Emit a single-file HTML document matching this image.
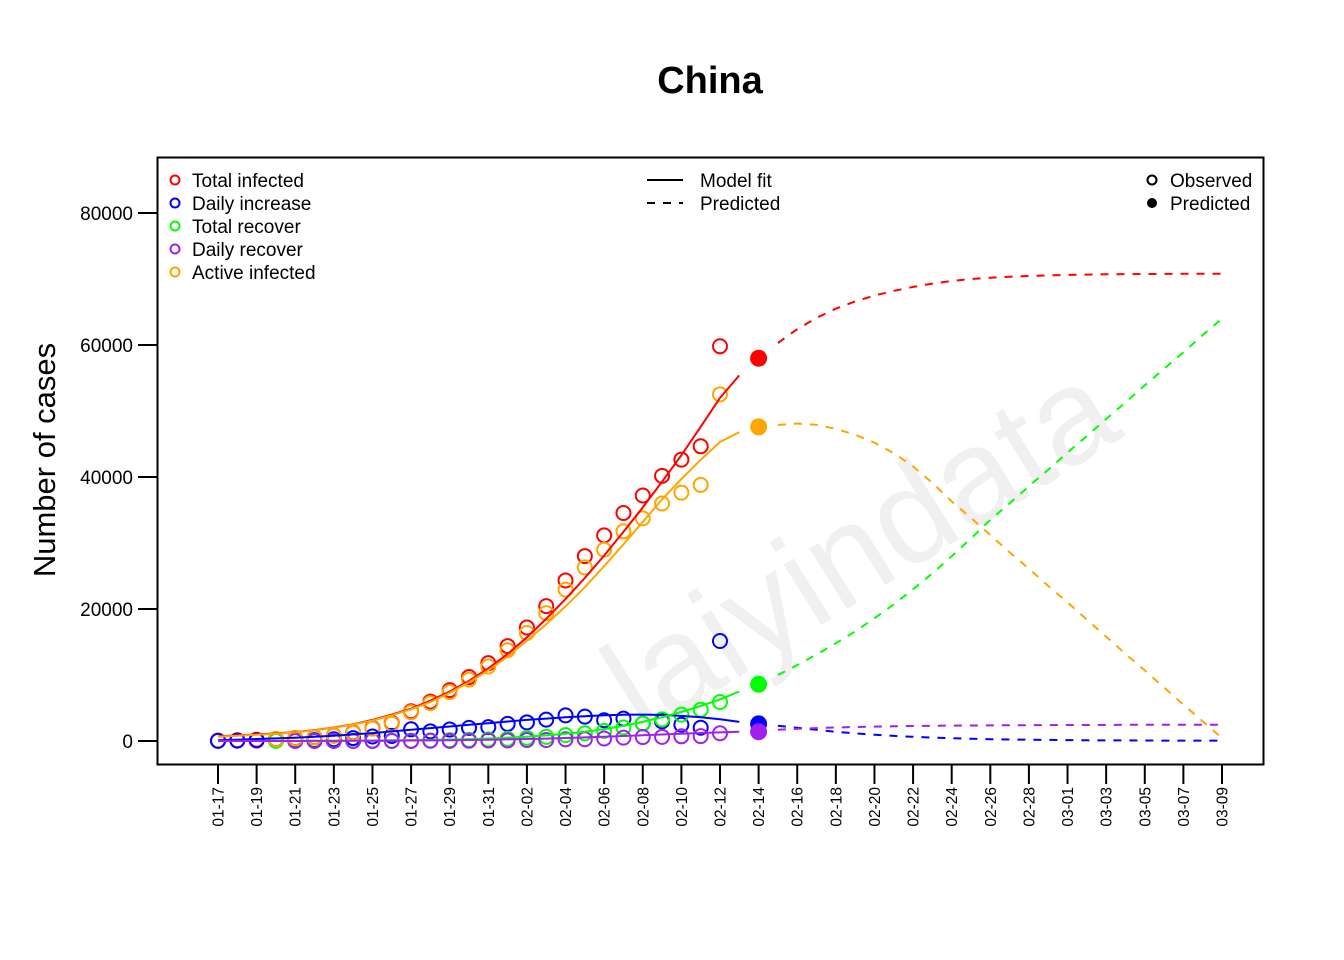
<!DOCTYPE html>
<html><head><meta charset="utf-8">
<style>
body{margin:0;background:#fff;}
svg{display:block;font-family:"Liberation Sans",Arial,sans-serif;}
</style></head>
<body>
<svg id="chart" width="1344" height="960" viewBox="0 0 1344 960" xmlns="http://www.w3.org/2000/svg">
<rect width="1344" height="960" fill="#fff"/>
<text x="0" y="45" font-size="135" fill="#f0f0f0" text-anchor="middle" transform="translate(860 548) rotate(-32)">laiyindata</text>
<text x="710" y="93" font-size="38" font-weight="bold" text-anchor="middle">China</text>
<text x="0" y="0" font-size="31" text-anchor="middle" transform="translate(55 460) rotate(-90)">Number of cases</text>
<g id="marks"></g>
<rect x="157.5" y="157.5" width="1106" height="607" fill="none" stroke="#000" stroke-width="2"/>
<g id="axes"></g>
<g font-size="19">
<circle cx="175" cy="180" r="4.5" fill="none" stroke="#f00" stroke-width="2"/>
<text x="192" y="187">Total infected</text>
<circle cx="175" cy="203" r="4.5" fill="none" stroke="#00f" stroke-width="2"/>
<text x="192" y="210">Daily increase</text>
<circle cx="175" cy="226" r="4.5" fill="none" stroke="#0f0" stroke-width="2"/>
<text x="192" y="233">Total recover</text>
<circle cx="175" cy="249" r="4.5" fill="none" stroke="#a020f0" stroke-width="2"/>
<text x="192" y="256">Daily recover</text>
<circle cx="175" cy="272" r="4.5" fill="none" stroke="#ffa500" stroke-width="2"/>
<text x="192" y="279">Active infected</text>
</g>
<g font-size="19">
<line x1="647" y1="180" x2="683" y2="180" stroke="#000" stroke-width="2"/>
<text x="700" y="187">Model fit</text>
<line x1="647" y1="203" x2="683" y2="203" stroke="#000" stroke-width="2" stroke-dasharray="8,8"/>
<text x="700" y="210">Predicted</text>
</g>
<g font-size="19">
<circle cx="1152" cy="180" r="4.5" fill="none" stroke="#000" stroke-width="2"/>
<text x="1170" y="187">Observed</text>
<circle cx="1152" cy="203" r="5" fill="#000"/>
<text x="1170" y="210">Predicted</text>
</g>
</svg>
<script>
const dateLabels=["01-17","01-19","01-21","01-23","01-25","01-27","01-29","01-31","02-02","02-04","02-06","02-08","02-10","02-12","02-14","02-16","02-18","02-20","02-22","02-24","02-26","02-28","03-01","03-03","03-05","03-07","03-09"];
const yTicks=[0,20000,40000,60000,80000];
// observed, index = day since 01-17 (null = not shown)
const obsTotal=[62,121,198,291,440,571,830,1287,1975,2744,4515,5974,7711,9692,11791,14380,17205,20438,24324,28018,31161,34546,37198,40171,42638,44653,59804];
const obsDaily=[20,59,77,93,149,131,259,444,688,769,1771,1459,1737,1982,2102,2590,2829,3235,3887,3694,3143,3385,2652,2973,2467,2015,15152];
const obsRecover=[null,null,null,25,25,28,34,38,49,51,60,103,124,171,243,328,475,632,892,1153,1540,2050,2649,3281,3996,4740,5911];
const obsDailyRec=[null,null,null,null,0,3,6,4,11,2,9,43,21,47,72,85,147,157,260,261,387,510,599,632,715,744,1171];
const obsActive=[null,null,null,260,406,526,771,1208,1870,2613,4349,5739,7417,9308,11289,13748,16369,19381,22942,26302,28985,31774,33738,35982,37626,38800,52526];
// model fit, days 0..27
const fitTotal=[700,850,1000,1150,1350,1650,2050,2550,3200,4000,4900,6100,7500,9100,11000,13200,15700,18500,21500,24700,28100,31700,35400,39300,43300,47600,52000,55400];
const fitActive=[650,800,950,1100,1300,1600,2000,2500,3100,3900,4800,5900,7300,8900,10700,12800,15200,17700,20400,23300,26500,29800,33200,36600,39700,42600,45300,46800];
const fitDaily=[100,200,300,400,500,650,800,1000,1200,1450,1700,1950,2200,2450,2700,2950,3200,3400,3600,3750,3900,3980,4000,3950,3800,3600,3300,2900];
const fitRecover=[0,0,0,10,20,30,40,60,80,100,130,170,220,290,380,500,650,850,1100,1400,1800,2300,2900,3600,4400,5300,6300,7500];
const fitDailyRec=[0,0,0,0,5,10,15,25,35,50,70,90,120,150,190,240,300,370,450,540,640,750,870,990,1100,1210,1310,1400];
// predicted lines, days 29..52
const predDays=[29,30,31,32,33,34,35,36,37,38,39,40,41,42,43,44,45,46,47,48,49,50,51,52];
const predTotal=[60300,62400,64100,65500,66600,67500,68200,68800,69300,69700,70000,70200,70350,70450,70550,70620,70670,70710,70740,70760,70780,70790,70800,70800];
const predActive=[47900,48100,47900,47300,46400,45200,43600,41600,39100,36300,33800,31200,28600,26100,23500,21000,18400,15800,13200,10700,8100,5500,3000,450];
const predRecover=[10000,11500,13100,14800,16600,18600,20700,23000,25400,28000,30700,33500,36000,38600,41100,43700,46200,48800,51300,53900,56400,58900,61500,64000];
const predDaily=[2300,2000,1700,1400,1150,950,780,640,520,420,340,280,230,190,160,130,110,95,85,75,65,60,55,50];
const predDailyRec=[1700,1850,1950,2050,2120,2180,2230,2270,2300,2330,2350,2370,2390,2400,2410,2420,2430,2440,2450,2455,2460,2465,2470,2475];
// predicted points at 02-14 (day 28)
const predPointDay=28;
const predPoints=[58000,2600,8600,1400,47600];

const X=d=>218+d*(1222-218)/52;
const Y=v=>741-v*(741-213)/80000;
const NS="http://www.w3.org/2000/svg";
const marks=document.getElementById('marks');
const axes=document.getElementById('axes');
function mk(tag,attrs,parent){const e=document.createElementNS(NS,tag);for(const k in attrs)e.setAttribute(k,attrs[k]);parent.appendChild(e);return e;}

yTicks.forEach(v=>{
  const t=mk('line',{x1:138,x2:157,y1:Y(v),y2:Y(v),stroke:'#000','stroke-width':2},axes);
  
  
  const tx=mk('text',{x:133,y:Y(v)+7,'font-size':19,'text-anchor':'end'},axes);
  tx.textContent=v;
  
  
});
dateLabels.forEach((lab,i)=>{
  const x=X(i*2);
  const t=mk('line',{x1:x,x2:x,y1:764,y2:784,stroke:'#000','stroke-width':2},axes);
  
  
  const tx=mk('text',{x:0,y:0,'font-size':15.5,'text-anchor':'end',transform:`translate(${x+5.5} 787) rotate(-90)`},axes);
  tx.textContent=lab;
  
  
});

const series=[
 {name:'total-infected',c:'#f00',obs:obsTotal,fit:fitTotal,pred:predTotal},
 {name:'daily-increase',c:'#00f',obs:obsDaily,fit:fitDaily,pred:predDaily},
 {name:'total-recover',c:'#0f0',obs:obsRecover,fit:fitRecover,pred:predRecover},
 {name:'daily-recover',c:'#a020f0',obs:obsDailyRec,fit:fitDailyRec,pred:predDailyRec},
 {name:'active-infected',c:'#ffa500',obs:obsActive,fit:fitActive,pred:predActive}
];
series.forEach(s=>{
  s.obs.forEach((v,d)=>{
    if(v===null)return;
    const c=mk('circle',{cx:X(d),cy:Y(v),r:7,fill:'none',stroke:s.c,'stroke-width':2},marks);
    
    
  });
});
series.forEach(s=>{
  const f=mk('path',{d:s.fit.map((v,d)=>(d?'L':'M')+X(d).toFixed(1)+' '+Y(v).toFixed(1)).join(''),fill:'none',stroke:s.c,'stroke-width':2},marks);
  
  
  const p=mk('path',{d:s.pred.map((v,i)=>(i?'L':'M')+X(predDays[i]).toFixed(1)+' '+Y(v).toFixed(1)).join(''),fill:'none',stroke:s.c,'stroke-width':2,'stroke-dasharray':'8,8'},marks);
  
  
});
series.forEach((s,i)=>{
  const c=mk('circle',{cx:X(predPointDay),cy:Y(predPoints[i]),r:8.5,fill:s.c},marks);
  
  
});
</script>
</body></html>
